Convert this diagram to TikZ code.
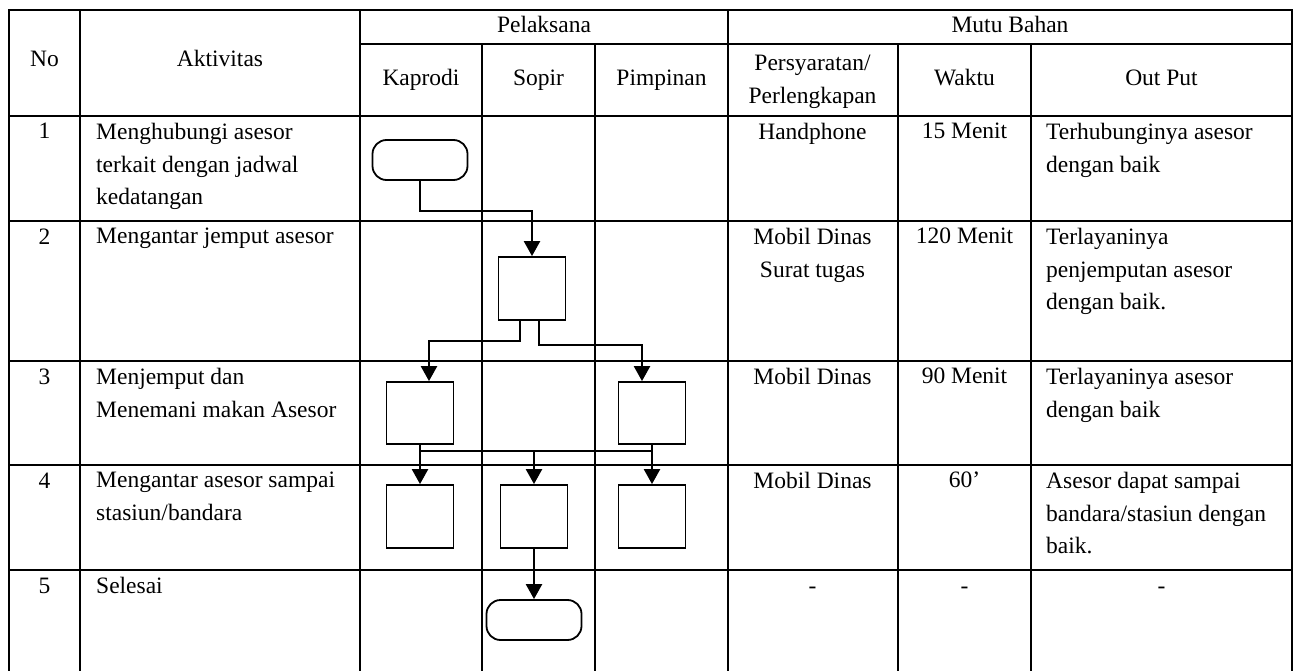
\documentclass[tikz,border=0pt]{standalone}
\usepackage{fontspec}
\setmainfont{Liberation Serif}
\usetikzlibrary{arrows.meta,calc}

\begin{document}
\begin{tikzpicture}[x=1pt,y=-1pt,font=\fontsize{23.5}{32.5}\selectfont,
  grid/.style={line width=2pt},
  proc/.style={draw,line width=1.8pt,minimum width=67pt,minimum height=63pt,inner sep=0pt},
  term/.style={draw,line width=1.8pt,rounded corners=14pt,minimum width=95pt,minimum height=40pt,inner sep=0pt},
  flow/.style={line width=2.4pt,-{Triangle[length=15pt,width=16pt]}},
  cell/.style={anchor=north west,inner sep=0pt,align=left},
  mid/.style={anchor=north,inner sep=0pt,align=center}]
\useasboundingbox (0,0) rectangle (1296,671);
\def\colno{44.5}
\def\colper{812.5}
\def\colwak{964.5}
% table lines
\draw[grid] (9,671) -- (9,10) -- (1292,10) -- (1292,671);
\draw[grid] (360,44) -- (1292,44);
\foreach \y in {116,221,361,465,570} {
  \draw[grid] (9,\y) -- (1292,\y);
}
\foreach \x in {80,360,728} {
  \draw[grid] (\x,10) -- (\x,671);
}
\foreach \x in {482,595,898,1031} {
  \draw[grid] (\x,44) -- (\x,671);
}
% header
\node[anchor=base] (hno) at (\colno,67) {No};
\node[anchor=base] (hakt) at (220,67) {Aktivitas};
\node[anchor=base] (hpel) at (544,33) {Pelaksana};
\node[anchor=base] (hmutu) at (1010,33) {Mutu Bahan};
\node[anchor=base] (hkap) at (421,86) {Kaprodi};
\node[anchor=base] (hsop) at (538.5,86) {Sopir};
\node[anchor=base] (hpim) at (661.5,86) {Pimpinan};
\node[mid] (hper) at (\colper,55) {Persyaratan/\\Perlengkapan};
\node[anchor=base] (hwak) at (\colwak,86) {Waktu};
\node[anchor=base] (hout) at (1161.5,86) {Out Put};
% rows
\foreach \n/\y in {1/116,2/221,3/361,4/465,5/570} {
  \node[anchor=base] (no\n) at (\colno,\y+23) {\n};
}
\node[cell] (akt1) at (96,123) {Menghubungi asesor\\terkait dengan jadwal\\kedatangan};
\node[cell] (akt2) at (96,228) {Mengantar jemput asesor};
\node[cell] (akt3) at (96,368) {Menjemput dan\\Menemani makan Asesor};
\node[cell] (akt4) at (96,472) {Mengantar asesor sampai\\stasiun/bandara};
\node[cell] (akt5) at (96,577) {Selesai};
\node[mid] (per1) at (\colper,123) {Handphone};
\node[mid] (per2) at (\colper,228) {Mobil Dinas\\Surat tugas};
\node[mid] (per3) at (\colper,368) {Mobil Dinas};
\node[mid] (per4) at (\colper,472) {Mobil Dinas};
\node[anchor=base] (per5) at (\colper,593) {-};
\node[mid] (wak1) at (\colwak,123) {15 Menit};
\node[mid] (wak2) at (\colwak,228) {120 Menit};
\node[mid] (wak3) at (\colwak,368) {90 Menit};
\node[mid] (wak4) at (\colwak,472) {60’};
\node[anchor=base] (wak5) at (\colwak,593) {-};
\node[cell] (out1) at (1046,123) {Terhubunginya asesor\\dengan baik};
\node[cell] (out2) at (1046,228) {Terlayaninya\\penjemputan asesor\\dengan baik.};
\node[cell] (out3) at (1046,368) {Terlayaninya asesor\\dengan baik};
\node[cell] (out4) at (1046,472) {Asesor dapat sampai\\bandara/stasiun dengan\\baik.};
\node[anchor=base] (out5) at (1161.5,593) {-};
% flow shapes
\node[term] (mulai) at (420,160) {};
\node[proc] (jemput) at (532,288.5) {};
\node[proc,minimum height=62pt] (kap3) at (420,413) {};
\node[proc,minimum height=62pt] (pim3) at (652,413) {};
\node[proc] (kap4) at (420,516.5) {};
\node[proc] (sop4) at (534,516.5) {};
\node[proc] (pim4) at (652,516.5) {};
\node[term] (selesai) at (534,620) {};
% connectors
\draw[flow] (mulai.south) -- ++(0,30) -| (jemput.north);
\draw[flow] ([xshift=-12pt]jemput.south) -- ++(0,20) -| ([xshift=9pt]kap3.north);
\draw[flow] ([xshift=7pt]jemput.south) -- ++(0,24) -| ([xshift=-10pt]pim3.north);
\coordinate (barkiri) at ($(kap3.south)+(0,6)$);
\coordinate (barkanan) at ($(pim3.south)+(0,6)$);
\draw[line width=2.4pt] (barkiri) -- (barkanan);
\draw[flow] (kap3.south) -- (kap4.north);
\draw[flow] (pim3.south) -- (pim4.north);
\draw[flow] (sop4.north |- barkiri) -- (sop4.north);
\draw[flow] (sop4.south) -- (selesai.north);
\end{tikzpicture}
\end{document}
